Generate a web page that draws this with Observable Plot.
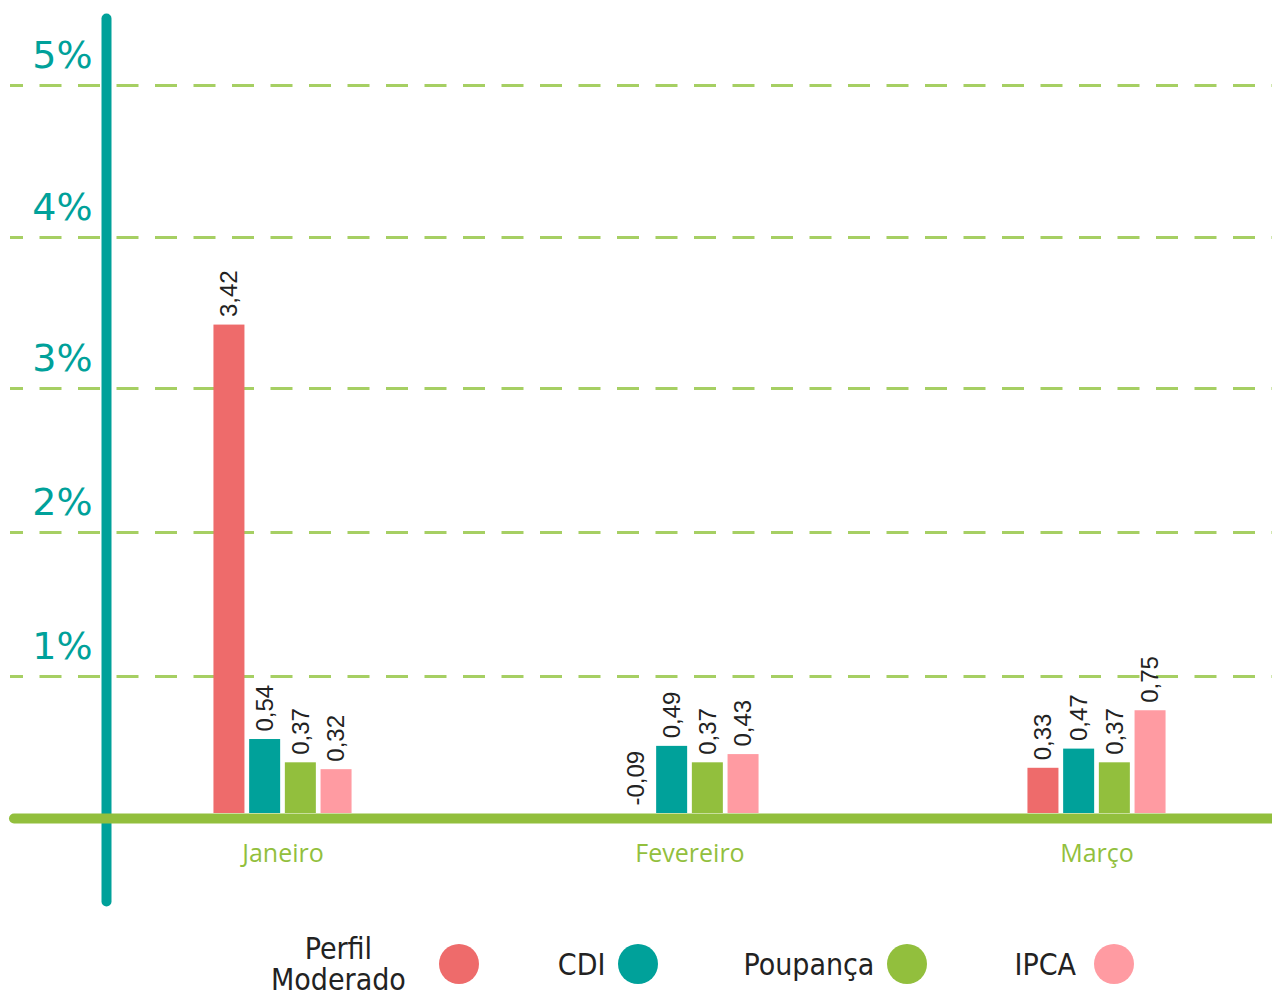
<!DOCTYPE html>
<html>
<head>
<meta charset="utf-8">
<script src="https://cdn.jsdelivr.net/npm/d3@7"></script>
<script src="https://cdn.jsdelivr.net/npm/@observablehq/plot@0.6"></script>
<style>
  html, body { margin: 0; padding: 0; background: #fff; overflow: hidden; }
  #legend { display: flex; align-items: center; height: 78px; padding-left: 271px;
    font-family: "DejaVu Sans Condensed", "DejaVu Sans", sans-serif; font-size: 30px; color: #222; }
  .item { display: flex; align-items: center; gap: 13px; }
  .item .lbl { text-align: center; line-height: 31px; }
  .dot { width: 40px; height: 40px; border-radius: 50%; }
</style>
</head>
<body>
<div id="chart"></div>
<div id="legend"></div>
<script>
const months = ["Janeiro", "Fevereiro", "Março"];
const seriesNames = ["Perfil Moderado", "CDI", "Poupança", "IPCA"];
const legendLabels = ["Perfil<br>Moderado", "CDI", "Poupança", "IPCA"];
const perfil = [3.42, -0.09, 0.33];
const cdi = [0.54, 0.49, 0.47];
const poupanca = [0.37, 0.37, 0.37];
const ipca = [0.32, 0.43, 0.75];
const yTicks = [1, 2, 3, 4, 5];
const colors = ["#ee6b6b", "#00a19a", "#92bf3d", "#ff9ba2"];

const seriesValues = [perfil, cdi, poupanca, ipca];
const rows = [];
seriesNames.forEach((s, i) => months.forEach((m, j) => rows.push({series: s, idx: i, month: m, value: seriesValues[i][j]})));

const teal = "#00a19a", green = "#92bf3d", gridGreen = "#a6cf63";
const step = 35.7;

const marks = [
  Plot.ruleY(yTicks, {stroke: gridGreen, strokeWidth: 3, strokeDasharray: "22,16.5", strokeDashoffset: 9, insetLeft: -96}),
  Plot.frame({anchor: "left", stroke: teal, strokeWidth: 10, strokeLinecap: "round"}),
  Plot.axisY(yTicks, {tickSize: 0, tickPadding: 14, dy: -30, fontSize: 38, fontFamily: "DejaVu Sans", fill: teal, color: teal, tickFormat: d => d + "%", label: null}),
];
seriesNames.forEach((s, i) => {
  const dx = (i - 1.5) * step;
  const sub = rows.filter(d => d.series === s);
  marks.push(Plot.barY(sub.filter(d => d.value > 0), {x: "month", y: "value", fill: colors[i], insetLeft: 188, insetRight: 188, dx}));
  marks.push(Plot.text(sub, {x: "month", y: d => Math.max(0, d.value), text: d => d.value.toFixed(2).replace(".", ","), rotate: -90, textAnchor: "start", lineAnchor: "middle", dx, dy: -8, fontSize: 24, fill: "#222", fontFamily: "Liberation Sans"}));
});
marks.push(Plot.ruleY([0], {stroke: green, strokeWidth: 10, strokeLinecap: "round", insetLeft: -92, dy: 5}));
marks.push(Plot.text(months, {x: d => d, y: 0, dy: 40, fontSize: 25, fontWeight: 500, fill: green, fontFamily: "Open Sans", lineAnchor: "middle"}));

const chart = Plot.plot({
  width: 1272,
  height: 925,
  marginLeft: 106,
  marginRight: 0,
  marginTop: 18,
  marginBottom: 24,
  style: {background: "white", overflow: "visible"},
  x: {type: "band", domain: months, range: [78.5, 1299.5], padding: 0, axis: null},
  y: {type: "linear", domain: [0, 1, 2, 3, 4, 5], range: [813, 676, 532, 388, 237, 85], label: null},
  marks
});
document.getElementById("chart").appendChild(chart);

const legend = document.getElementById("legend");
const itemGaps = [33, 13, 13, 18];
const itemMargins = [79, 85, 87, 0];
seriesNames.forEach((s, i) => {
  const item = document.createElement("div");
  item.className = "item";
  item.style.gap = itemGaps[i] + "px";
  item.style.marginRight = itemMargins[i] + "px";
  item.innerHTML = `<div class="lbl">${legendLabels[i]}</div><div class="dot" style="background:${colors[i]}"></div>`;
  legend.appendChild(item);
});
</script>
</body>
</html>
